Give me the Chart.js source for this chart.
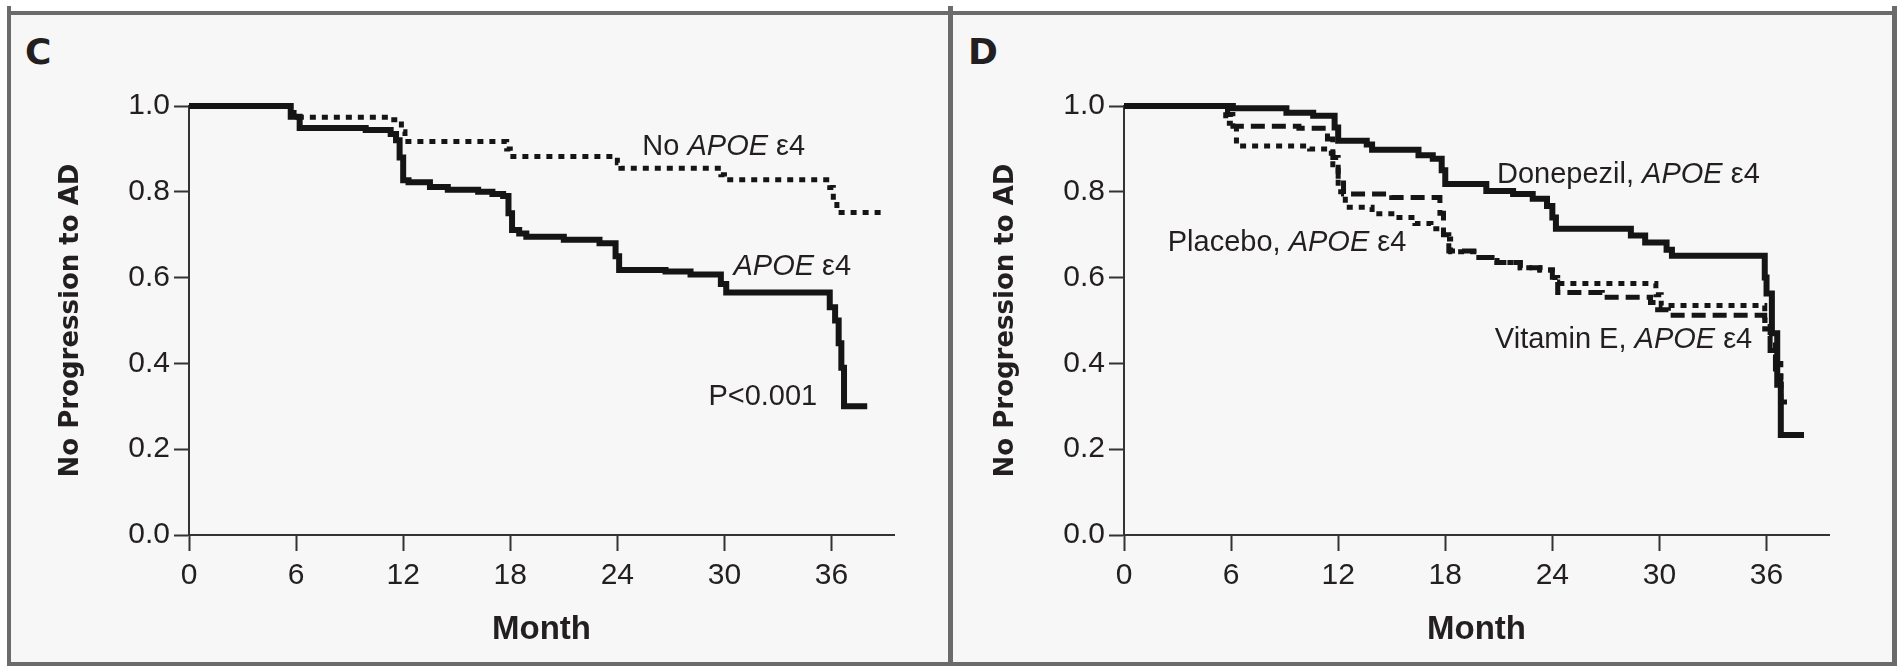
<!DOCTYPE html>
<html>
<head>
<meta charset="utf-8">
<title>No Progression to AD by APOE e4 status</title>
<script src="https://cdn.jsdelivr.net/npm/chart.js@4.4.1/dist/chart.umd.min.js"></script>
<style>
  html, body { margin: 0; padding: 0; background: #fff; }
  #stage { position: relative; width: 1900px; height: 666px; overflow: hidden; }
  .panel-bg { position: absolute; left: 7px; top: 11px; width: 1890px; height: 655px; background: #f7f7f7; }
  .rule { position: absolute; background: #6b6b6b; }
  .letter { position: absolute; top: 34px; font: bold 36px 'DejaVu Sans', sans-serif; line-height: 36px; color: #231f20; }
  canvas { position: absolute; top: 0; }
</style>
</head>
<body>
<div id="stage">
  <div class="panel-bg"></div>
  <div class="rule" style="left:7px; top:11px; width:1890px; height:4px;"></div>
  <div class="rule" style="left:7px; top:6px; width:4px; height:660px;"></div>
  <div class="rule" style="left:948px; top:6px; width:5px; height:660px;"></div>
  <div class="rule" style="left:1892px; top:6px; width:5px; height:660px;"></div>
  <div class="rule" style="left:7px; top:662px; width:1890px; height:4px;"></div>
  <div class="letter" style="left:25px;">C</div>
  <div class="letter" style="left:968px;">D</div>
  <canvas id="chartC" width="950" height="666" style="left:0px;"></canvas>
  <canvas id="chartD" width="950" height="666" style="left:935px;"></canvas>
</div>
<script>
// ---- axis ticks ----
const monthTicks = [0, 6, 12, 18, 24, 30, 36];
const survTicks = [0, 0.2, 0.4, 0.6, 0.8, 1.0];
const survTickLabels = ['0.0', '0.2', '0.4', '0.6', '0.8', '1.0'];

// ---- panel C: APOE e4 carriers vs non-carriers (month of drop, value after drop) ----
const apoeMonths = [0, 5.7, 6.2, 9.9, 11.3, 11.6, 11.8, 12.0, 12.3, 13.5, 14.5, 16.2, 17.0, 17.6, 17.9, 18.1,
    18.5, 18.9, 21.0, 23.0, 23.9, 24.1, 26.7, 28.1, 29.8, 30.1, 35.9, 36.2, 36.4, 36.55, 36.7, 38.0];
const apoeSurv = [1.0, 0.975, 0.949, 0.944, 0.935, 0.92, 0.88, 0.827, 0.822, 0.811, 0.805, 0.80, 0.795, 0.79, 0.75, 0.711,
    0.703, 0.695, 0.688, 0.68, 0.65, 0.618, 0.614, 0.607, 0.585, 0.565, 0.531, 0.50, 0.447, 0.39, 0.30, 0.30];

const noApoeMonths = [0, 5.8, 6.1, 11.3, 11.9, 12.1, 17.8, 18.0, 24.0, 24.2, 29.8, 30.0, 35.9, 36.1, 36.3, 39.0];
const noApoeSurv = [1.0, 0.985, 0.974, 0.968, 0.94, 0.917, 0.90, 0.882, 0.868, 0.855, 0.84, 0.828, 0.81, 0.78, 0.752, 0.752];

// ---- panel D: treatment groups among APOE e4 carriers ----
const donepezilMonths = [0, 6.1, 9.1, 10.6, 11.8, 12.0, 13.6, 13.9, 16.5, 17.3, 17.8, 18.0, 20.3, 21.8, 22.9, 23.7,
    24.0, 24.2, 28.4, 29.2, 30.4, 30.7, 35.9, 36.0, 36.3, 36.6, 36.8, 38.1];
const donepezilSurv = [1.0, 0.995, 0.984, 0.977, 0.95, 0.919, 0.91, 0.898, 0.885, 0.877, 0.85, 0.818, 0.802, 0.795, 0.784, 0.767,
    0.74, 0.714, 0.698, 0.682, 0.665, 0.651, 0.60, 0.563, 0.47, 0.35, 0.233, 0.233];

const vitaminMonths = [0, 5.8, 6.1, 9.8, 11.4, 11.7, 12.0, 12.3, 15.0, 17.7, 17.9, 18.2, 19.6, 20.9, 22.2, 23.3,
    24.0, 24.3, 26.8, 29.5, 29.9, 30.5, 35.9, 36.2, 36.5, 36.8, 37.4];
const vitaminSurv = [1.0, 0.98, 0.953, 0.948, 0.923, 0.88, 0.83, 0.795, 0.787, 0.75, 0.70, 0.662, 0.647, 0.635, 0.623, 0.618,
    0.59, 0.565, 0.554, 0.542, 0.525, 0.512, 0.48, 0.43, 0.37, 0.31, 0.31];

const placeboMonths = [0, 5.7, 6.3, 10.4, 11.4, 11.7, 12.0, 12.4, 13.9, 15.2, 16.3, 17.2, 17.9, 18.3, 19.6, 20.9,
    22.2, 23.3, 24.0, 24.3, 29.8, 30.1, 35.9, 36.2, 36.5, 36.8, 37.0];
const placeboSurv = [1.0, 0.96, 0.907, 0.90, 0.89, 0.85, 0.80, 0.764, 0.749, 0.74, 0.726, 0.714, 0.69, 0.66, 0.647, 0.635,
    0.623, 0.618, 0.60, 0.586, 0.56, 0.535, 0.50, 0.45, 0.40, 0.34, 0.34];

const INK = '#231f20';
const LINE = '#151515';
const tickFont = "'Liberation Sans', Arial, sans-serif";
const labelFont = "'Liberation Sans', Arial, sans-serif";

function toPoints(months, surv) {
    return months.map((m, i) => ({ x: m, y: surv[i] }));
}

function kmDataset(months, surv, style) {
    const ds = {
        data: toPoints(months, surv),
        borderColor: LINE,
        borderWidth: 5,
        pointRadius: 0,
        stepped: true,
        fill: false,
        clip: false,
        borderCapStyle: 'butt',
        borderJoinStyle: 'miter'
    };
    if (style === 'solid') ds.borderWidth = 6;
    if (style === 'dotted') ds.borderDash = [6, 6];
    if (style === 'dashed') ds.borderDash = [14, 7];
    return ds;
}

// text labels placed in data coordinates, mixed roman / italic runs
const kmLabels = {
    id: 'kmLabels',
    afterDatasetsDraw(chart, args, opts) {
        const { ctx, scales: { x, y } } = chart;
        ctx.save();
        ctx.fillStyle = INK;
        ctx.textBaseline = 'alphabetic';
        (opts.items || []).forEach(item => {
            const fonts = item.parts.map(p => (p[1] ? 'italic ' : '') + opts.size + 'px ' + labelFont);
            const widths = item.parts.map((p, i) => {
                ctx.font = fonts[i];
                return ctx.measureText(p[0]).width;
            });
            const total = widths.reduce((a, b) => a + b, 0);
            let px = x.getPixelForValue(item.month);
            if (item.align === 'right') px -= total;
            const py = y.getPixelForValue(item.value);
            item.parts.forEach((p, i) => {
                ctx.font = fonts[i];
                ctx.fillText(p[0], px, py);
                px += widths[i];
            });
        });
        ctx.restore();
    }
};

function makePanel(id, datasets, labels) {
    return new Chart(document.getElementById(id), {
        type: 'line',
        data: { datasets: datasets },
        plugins: [kmLabels],
        options: {
            responsive: false,
            devicePixelRatio: 1,
            animation: false,
            layout: { padding: { left: 56, right: 56, top: 106, bottom: 0 } },
            scales: {
                x: {
                    type: 'linear',
                    min: 0,
                    max: 39.5,
                    afterBuildTicks: s => { s.ticks = monthTicks.map(v => ({ value: v })); },
                    afterFit: s => { s.height = 131; },
                    grid: { display: true, drawOnChartArea: false, drawTicks: true, tickLength: 16, tickWidth: 2, tickColor: '#333' },
                    border: { display: true, color: '#333', width: 2 },
                    ticks: { color: INK, font: { family: tickFont, size: 30 }, padding: 7, maxRotation: 0, autoSkip: false },
                    title: {
                        display: true, text: 'Month', color: INK,
                        font: { family: tickFont, size: 33, weight: 'bold' },
                        padding: { top: 0, bottom: 16 }
                    }
                },
                y: {
                    type: 'linear',
                    min: 0,
                    max: 1,
                    afterBuildTicks: s => { s.ticks = survTicks.map(v => ({ value: v })); },
                    afterFit: s => { s.width = 133; },
                    grid: { display: true, drawOnChartArea: false, drawTicks: true, tickLength: 15, tickWidth: 2, tickColor: '#333' },
                    border: { display: true, color: '#333', width: 2 },
                    ticks: {
                        color: INK, font: { family: tickFont, size: 30 }, padding: 4,
                        callback: (v, i) => survTickLabels[i]
                    },
                    title: {
                        display: true, text: 'No Progression to AD', color: INK,
                        font: { family: "'DejaVu Sans', sans-serif", size: 26, weight: 'bold' },
                        padding: { top: 0, bottom: 0 }
                    }
                }
            },
            plugins: {
                legend: { display: false },
                tooltip: { enabled: false },
                kmLabels: { size: 29, items: labels }
            }
        }
    });
}

makePanel('chartC', [
    kmDataset(noApoeMonths, noApoeSurv, 'dotted'),
    kmDataset(apoeMonths, apoeSurv, 'solid')
], [
    { month: 25.4, value: 0.886, align: 'left', parts: [['No ', false], ['APOE', true], [' \u03b54', false]] },
    { month: 37.1, value: 0.606, align: 'right', parts: [['APOE', true], [' \u03b54', false]] },
    { month: 29.1, value: 0.303, align: 'left', parts: [['P<0.001', false]] }
]);

makePanel('chartD', [
    kmDataset(placeboMonths, placeboSurv, 'dotted'),
    kmDataset(vitaminMonths, vitaminSurv, 'dashed'),
    kmDataset(donepezilMonths, donepezilSurv, 'solid')
], [
    { month: 20.9, value: 0.821, align: 'left', parts: [['Donepezil, ', false], ['APOE', true], [' \u03b54', false]] },
    { month: 2.45, value: 0.663, align: 'left', parts: [['Placebo, ', false], ['APOE', true], [' \u03b54', false]] },
    { month: 35.2, value: 0.437, align: 'right', parts: [['Vitamin E, ', false], ['APOE', true], [' \u03b54', false]] }
]);
</script>
</body>
</html>
